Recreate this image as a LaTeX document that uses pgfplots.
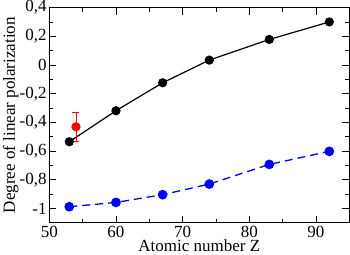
\documentclass[border=0pt]{standalone}
\usepackage{fontspec}
\setmainfont{Liberation Serif}
\usepackage{pgfplots}
\pgfplotsset{compat=1.18}
\begin{document}
\fontsize{17}{20}\selectfont
\begin{tikzpicture}
\useasboundingbox (-49.3pt,-31.2pt) rectangle (300.7pt,222.8pt);
\begin{axis}[
  scale only axis,
  width=300pt, height=215.2pt,
  xmin=50, xmax=95, ymin=-1.1, ymax=0.4,
  xtick={50,60,70,80,90},
  minor xtick={55,65,75,85},
  ytick={-1,-0.8,-0.6,-0.4,-0.2,0,0.2,0.4},
  yticklabels={{-1},{-0,8},{-0,6},{-0,4},{-0,2},{0},{0,2},{0,4}},
  minor ytick={-1.1,-0.9,-0.7,-0.5,-0.3,-0.1,0.1,0.3},
  tick align=inside,
  major tick length=7pt, minor tick length=4pt,
  every tick/.style={black, line width=0.8pt},
  axis line style={line width=1.1pt},
  /pgf/number format/assume math mode=true,
  tick label style={font=\fontsize{17}{20}\selectfont},
  xticklabel style={inner sep=0.5pt, yshift=-2.5pt},
  yticklabel style={inner sep=2.5pt},
  xlabel={Atomic number Z},
  ylabel={Degree of linear polarization},
  xlabel style={at={(axis description cs:0.5,0)}, anchor=base, inner sep=0pt, yshift=-28.8pt, font=\fontsize{17}{20}\selectfont},
  ylabel style={at={([xshift=-34.3pt]axis description cs:0,0.5)}, anchor=base, font=\fontsize{17}{20}\selectfont},
  clip=false,
]
\addplot[black, line width=1.2pt, mark=*, mark size=4pt, mark options={solid}]
  coordinates {(53,-0.535) (60,-0.319) (67,-0.124) (74,0.034) (83,0.178) (92,0.300)};
\addplot[blue, line width=1.3pt, dash pattern=on 8pt off 5pt, mark=*, mark size=4.2pt, mark options={solid}]
  coordinates {(53,-0.988) (60,-0.958) (67,-0.904) (74,-0.830) (83,-0.693) (92,-0.602)};
\addplot[red, line width=1.2pt, mark=*, mark size=4pt, mark options={solid},
  error bars/.cd, y dir=both, y explicit, error mark options={rotate=90, mark size=3.5pt, line width=1.2pt, red}]
  coordinates {(54,-0.431) +- (0,0.102)};
\end{axis}
\end{tikzpicture}
\end{document}
